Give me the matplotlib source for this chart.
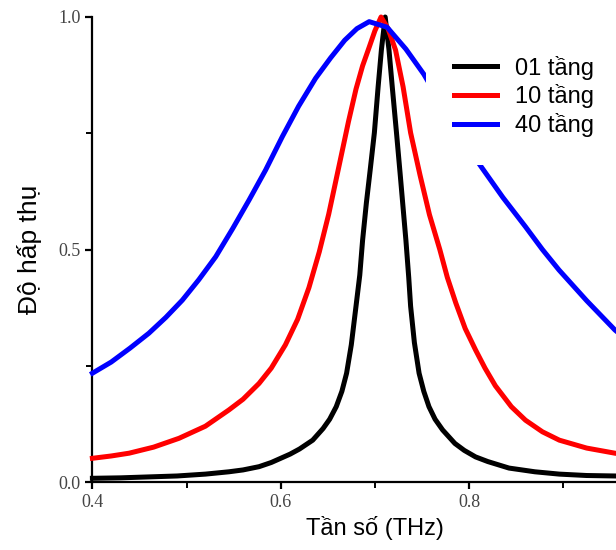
import matplotlib
matplotlib.use('Agg')
import matplotlib.pyplot as plt
from matplotlib.ticker import FixedLocator

# values
x_01 = [0.40, 0.43, 0.46, 0.49, 0.52, 0.545, 0.56, 0.577, 0.59, 0.60, 0.61, 0.62,
        0.634, 0.645, 0.652, 0.659, 0.665, 0.670, 0.675, 0.680, 0.684, 0.687,
        0.691, 0.695, 0.6995, 0.7035, 0.707, 0.711, 0.715, 0.7185, 0.723, 0.727,
        0.730, 0.733, 0.736, 0.738, 0.742, 0.747, 0.752, 0.7575, 0.764, 0.772,
        0.785, 0.795, 0.807, 0.82, 0.8425, 0.87, 0.896, 0.925, 0.955, 0.98]
y_01 = [0.008, 0.009, 0.011, 0.013, 0.017, 0.022, 0.026, 0.033, 0.042, 0.051, 0.060, 0.071,
        0.090, 0.115, 0.135, 0.162, 0.195, 0.234, 0.295, 0.378, 0.445, 0.520,
        0.600, 0.670, 0.751, 0.850, 0.930, 1.000, 0.930, 0.850, 0.751, 0.660,
        0.590, 0.520, 0.440, 0.378, 0.300, 0.234, 0.195, 0.162, 0.135, 0.112,
        0.083, 0.068, 0.054, 0.044, 0.030, 0.022, 0.017, 0.014, 0.013, 0.012]

x_10 = [0.40, 0.42, 0.439, 0.465, 0.492, 0.52, 0.545, 0.56, 0.577, 0.59, 0.605, 0.618,
        0.630, 0.641, 0.651, 0.662, 0.672, 0.680, 0.687, 0.694, 0.700, 0.7066,
        0.714, 0.722, 0.730, 0.738, 0.748, 0.758, 0.769, 0.777, 0.786, 0.796,
        0.807, 0.817, 0.828, 0.845, 0.860, 0.878, 0.896, 0.925, 0.955, 0.98]
y_10 = [0.051, 0.056, 0.062, 0.075, 0.094, 0.120, 0.155, 0.178, 0.212, 0.245, 0.295, 0.350,
        0.418, 0.495, 0.576, 0.680, 0.775, 0.845, 0.895, 0.935, 0.970, 1.000,
        0.975, 0.929, 0.850, 0.751, 0.660, 0.575, 0.500, 0.440, 0.385, 0.330,
        0.284, 0.245, 0.207, 0.162, 0.133, 0.108, 0.090, 0.073, 0.062, 0.055]

x_40 = [0.40, 0.42, 0.44, 0.46, 0.478, 0.4955, 0.513, 0.531, 0.549, 0.5663, 0.584,
        0.6017, 0.619, 0.637, 0.653, 0.668, 0.681, 0.694, 0.713, 0.733, 0.752,
        0.770, 0.790, 0.814, 0.836, 0.860, 0.878, 0.8956, 0.925, 0.955, 0.98]
y_40 = [0.234, 0.258, 0.288, 0.320, 0.354, 0.391, 0.435, 0.4845, 0.545, 0.606, 0.671,
        0.7426, 0.808, 0.868, 0.912, 0.950, 0.975, 0.990, 0.978, 0.931, 0.877,
        0.815, 0.745, 0.675, 0.612, 0.549, 0.500, 0.456, 0.390, 0.327, 0.285]

labels = ['01 tầng', '10 tầng', '40 tầng']
colors = ['#000000', '#ff0000', '#0000ff']

fig = plt.figure(figsize=(6.16, 5.5), dpi=100)
ax = fig.add_axes([0.150, 0.1236, 0.917, 0.8455])

for xs, ys, lab, c in zip([x_01, x_10, x_40], [y_01, y_10, y_40], labels, colors):
    ax.plot(xs, ys, color=c, lw=3.6, label=lab, clip_on=False, zorder=3,
            solid_joinstyle='round')

ax.set_xlim(0.4, 1.0)
ax.set_ylim(0, 1.0)
ax.xaxis.set_major_locator(FixedLocator([0.4, 0.6, 0.8]))
ax.xaxis.set_minor_locator(FixedLocator([0.5, 0.7, 0.9]))
ax.yaxis.set_major_locator(FixedLocator([0.0, 0.5, 1.0]))
ax.yaxis.set_minor_locator(FixedLocator([0.25, 0.75]))

for s in ['top', 'right']:
    ax.spines[s].set_visible(False)
for s in ['left', 'bottom']:
    ax.spines[s].set_linewidth(1.6)

ax.tick_params(which='major', direction='out', length=5, width=1.6,
               labelsize=13, labelcolor='#444444')
ax.tick_params(which='minor', direction='out', length=4, width=1.4)
for t in ax.get_xticklabels() + ax.get_yticklabels():
    t.set_fontfamily('Liberation Serif')

ax.set_xlabel('Tần số (THz)', fontsize=17, family='Liberation Sans', labelpad=4)
ax.set_ylabel('Độ hấp thụ', fontsize=19, family='Liberation Sans', labelpad=12)

leg = ax.legend(loc='lower left', bbox_to_anchor=(0.59, 0.681), frameon=True,
                fancybox=False, framealpha=1, facecolor='white', edgecolor='none',
                prop={'family': 'Liberation Sans', 'size': 17},
                handlelength=1.8, handletextpad=0.8, labelspacing=0.2,
                borderpad=1.2, borderaxespad=0)
leg.set_zorder(5)
for ln in leg.get_lines():
    ln.set_linewidth(3.6)

fig.savefig('out.png', dpi=100)
